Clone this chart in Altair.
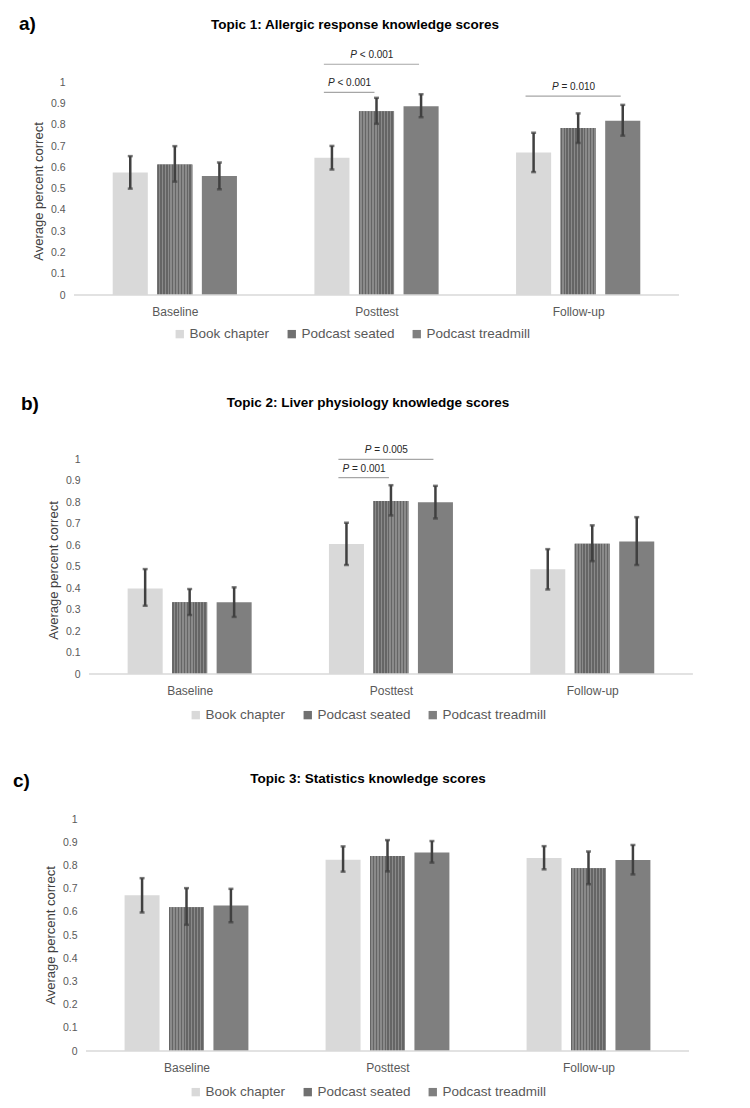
import altair as alt
import pandas as pd

# ---------------- data ----------------
groups = ["Baseline", "Posttest", "Follow-up"]
series = ["Book chapter", "Podcast seated", "Podcast treadmill"]
colors = ["#d9d9d9", "#707070", "#7f7f7f"]
yticks = [0, 0.1, 0.2, 0.3, 0.4, 0.5, 0.6, 0.7, 0.8, 0.9, 1]

# Topic 1
t1_letter = "a)"
t1_title = "Topic 1: Allergic response knowledge scores"
t1_book = [0.576, 0.645, 0.670]
t1_book_lo = [0.500, 0.590, 0.578]
t1_book_hi = [0.653, 0.701, 0.763]
t1_seated = [0.614, 0.864, 0.785]
t1_seated_lo = [0.533, 0.805, 0.715]
t1_seated_hi = [0.700, 0.927, 0.854]
t1_tread = [0.559, 0.888, 0.819]
t1_tread_lo = [0.497, 0.836, 0.749]
t1_tread_hi = [0.623, 0.944, 0.894]
t1_sig_group = ["Posttest", "Posttest", "Follow-up"]
t1_sig_from = ["Book chapter", "Book chapter", "Book chapter"]
t1_sig_to = ["Podcast treadmill", "Podcast seated", "Podcast treadmill"]
t1_sig_level = [1.085, 0.953, 0.935]
t1_sig_p = ["< 0.001", "< 0.001", "= 0.010"]

# Topic 2
t2_letter = "b)"
t2_title = "Topic 2: Liver physiology knowledge scores"
t2_book = [0.399, 0.606, 0.488]
t2_book_lo = [0.318, 0.508, 0.394]
t2_book_hi = [0.489, 0.705, 0.582]
t2_seated = [0.335, 0.806, 0.607]
t2_seated_lo = [0.275, 0.739, 0.526]
t2_seated_hi = [0.396, 0.880, 0.693]
t2_tread = [0.335, 0.800, 0.618]
t2_tread_lo = [0.266, 0.725, 0.508]
t2_tread_hi = [0.404, 0.877, 0.731]
t2_sig_group = ["Posttest", "Posttest"]
t2_sig_from = ["Book chapter", "Book chapter"]
t2_sig_to = ["Podcast treadmill", "Podcast seated"]
t2_sig_level = [1.0, 0.915]
t2_sig_p = ["= 0.005", "= 0.001"]

# Topic 3
t3_letter = "c)"
t3_title = "Topic 3: Statistics knowledge scores"
t3_book = [0.671, 0.824, 0.832]
t3_book_lo = [0.597, 0.773, 0.783]
t3_book_hi = [0.745, 0.882, 0.883]
t3_seated = [0.620, 0.840, 0.788]
t3_seated_lo = [0.544, 0.774, 0.719]
t3_seated_hi = [0.702, 0.909, 0.860]
t3_tread = [0.627, 0.856, 0.823]
t3_tread_lo = [0.555, 0.812, 0.761]
t3_tread_hi = [0.699, 0.905, 0.888]
t3_sig_group = []
t3_sig_from = []
t3_sig_to = []
t3_sig_level = []
t3_sig_p = []

# ---------------- layout / style ----------------
FONT = "Liberation Sans"
OFFS = [-0.221, 0.0, 0.221]   # series offset inside a group (group units)
HALF = 0.087                  # half bar width (group units)
W = 619
ERR = "#404040"
TXT = "#595959"


def bar_frame(means, los, his):
    rows = []
    for gi, g in enumerate(groups):
        for si, s in enumerate(series):
            p = gi + OFFS[si]
            rows.append({"group": g, "series": s, "pos": p,
                         "x0": p - HALF, "x1": p + HALF,
                         "mean": means[si][gi], "lo": los[si][gi], "hi": his[si][gi]})
    return pd.DataFrame(rows)


def sig_frame(g, f, t, lev, ptxt):
    rows = []
    for gg, ff, tt, ll, pp in zip(g, f, t, lev, ptxt):
        gi = groups.index(gg)
        a = gi + OFFS[series.index(ff)] - 0.04
        b = gi + OFFS[series.index(tt)] - 0.01
        rows.append({"a": a, "b": b, "mid": (a + b) / 2, "level": ll, "p": pp})
    return pd.DataFrame(rows, columns=["a", "b", "mid", "level", "p"])


def stripes(c1, c2, n):
    stops = []
    for i in range(n):
        s0 = i / n
        s1 = (i + 0.5) / n
        s2 = (i + 1) / n
        stops += [alt.GradientStop(offset=s0, color=c1), alt.GradientStop(offset=s1, color=c1),
                  alt.GradientStop(offset=s1, color=c2), alt.GradientStop(offset=s2, color=c2)]
    return alt.LinearGradient(gradient="linear", stops=stops, x1=0, x2=1, y1=0, y2=0)


def panel(letter, title, means, los, his, sig, ymax, height, xdom, yoff,
          legxy, letxy, titlexy, ytitle_y):
    df = bar_frame(means, los, his)
    xs = alt.Scale(domain=xdom, nice=False, zero=False)
    ys = alt.Scale(domain=[0, ymax], nice=False)
    label_expr = "[" + ",".join("'" + g + "'" for g in groups) + "][datum.value]"

    bars = alt.Chart(df).mark_bar().encode(
        x=alt.X("x0:Q", scale=xs,
                axis=alt.Axis(values=list(range(len(groups))), labelExpr=label_expr,
                              domain=False, ticks=False, grid=False, title=None,
                              labelFontSize=12, labelColor=TXT, labelFont=FONT,
                              labelPadding=11)),
        x2="x1:Q",
        y=alt.Y("mean:Q", scale=ys,
                axis=alt.Axis(values=yticks, format=".1~f", domain=False, ticks=False,
                              grid=False, labelFontSize=10.5, labelColor=TXT,
                              labelFont=FONT, labelPadding=9, offset=yoff,
                              title="Average percent correct", titleFont=FONT,
                              titleFontSize=13, titleFontWeight="normal",
                              titleColor="#404040", titlePadding=5,
                              titleY=ytitle_y)),
        y2=alt.datum(0),
        color=alt.Color("series:N", scale=alt.Scale(domain=series, range=colors),
                        legend=alt.Legend(title=None, orient="none", direction="horizontal",
                                          legendX=legxy[0], legendY=legxy[1],
                                          symbolType="square", symbolSize=70,
                                          symbolStrokeWidth=0, labelFontSize=13.5,
                                          labelFont=FONT, labelColor=TXT,
                                          columnPadding=15, labelOffset=3,
                                          padding=0)),
    )

    seated_stripes = alt.Chart(df).transform_filter(
        alt.datum.series == series[1]
    ).mark_bar(color=stripes("#656565", "#8a8a8a", 12)).encode(
        x=alt.X("x0:Q", scale=xs, axis=None),
        x2="x1:Q",
        y=alt.Y("mean:Q", scale=ys, axis=None),
        y2=alt.datum(0),
    )

    base_line = alt.Chart(pd.DataFrame({"a": [-0.5], "b": [len(groups) - 0.5], "y": [0]})).mark_rule(
        color="#d9d9d9", strokeWidth=1.5
    ).encode(
        x=alt.X("a:Q", scale=xs, axis=None), x2="b:Q",
        y=alt.Y("y:Q", scale=ys, axis=None),
    )

    err = alt.Chart(df).mark_rule(color=ERR, strokeWidth=2.5).encode(
        x=alt.X("pos:Q", scale=xs, axis=None),
        y=alt.Y("lo:Q", scale=ys, axis=None), y2="hi:Q",
    )
    caps = alt.Chart(df).transform_fold(["lo", "hi"], as_=["k", "v"]).mark_tick(
        color=ERR, thickness=2.5, size=5, orient="horizontal"
    ).encode(
        x=alt.X("pos:Q", scale=xs, axis=None),
        y=alt.Y("v:Q", scale=ys, axis=None),
    )

    layers = [bars, seated_stripes, base_line, err, caps]

    if len(sig) > 0:
        sline = alt.Chart(sig).mark_rule(color="#a6a6a6", strokeWidth=1.2).encode(
            x=alt.X("a:Q", scale=xs, axis=None), x2="b:Q",
            y=alt.Y("level:Q", scale=ys, axis=None),
        )
        sP = alt.Chart(sig).mark_text(text="P", font=FONT, fontSize=10, fontStyle="italic",
                                      align="right", baseline="middle", dx=-14.5, dy=-9,
                                      color="#262626").encode(
            x=alt.X("mid:Q", scale=xs, axis=None),
            y=alt.Y("level:Q", scale=ys, axis=None),
        )
        sT = alt.Chart(sig).mark_text(font=FONT, fontSize=10, align="left", baseline="middle",
                                      dx=-11.7, dy=-9, color="#262626").encode(
            x=alt.X("mid:Q", scale=xs, axis=None),
            y=alt.Y("level:Q", scale=ys, axis=None),
            text="p:N",
        )
        layers += [sline, sP, sT]

    lab = alt.Chart(pd.DataFrame({"t": [letter]})).mark_text(
        font=FONT, fontSize=19, fontWeight="bold", align="left", baseline="middle", color="#000000"
    ).encode(text="t:N", x=alt.value(letxy[0]), y=alt.value(letxy[1]))
    ttl = alt.Chart(pd.DataFrame({"t": [title]})).mark_text(
        font=FONT, fontSize=13.5, fontWeight="bold", align="center", baseline="middle", color="#000000"
    ).encode(text="t:N", x=alt.value(titlexy[0]), y=alt.value(titlexy[1]))
    layers += [lab, ttl]

    return alt.layer(*layers).resolve_axis(x="independent", y="independent").properties(
        width=W, height=height,
    )


p1 = panel(t1_letter, t1_title,
           [t1_book, t1_seated, t1_tread], [t1_book_lo, t1_seated_lo, t1_tread_lo],
           [t1_book_hi, t1_seated_hi, t1_tread_hi],
           sig_frame(t1_sig_group, t1_sig_from, t1_sig_to, t1_sig_level, t1_sig_p),
           ymax=1.152, height=245, xdom=[-0.5, 2.5694], yoff=0,
           legxy=(99, 277), letxy=(-55, -26), titlexy=(281, -25), ytitle_y=141)

p2 = panel(t2_letter, t2_title,
           [t2_book, t2_seated, t2_tread], [t2_book_lo, t2_seated_lo, t2_tread_lo],
           [t2_book_hi, t2_seated_hi, t2_tread_hi],
           sig_frame(t2_sig_group, t2_sig_from, t2_sig_to, t2_sig_level, t2_sig_p),
           ymax=1.1, height=236, xdom=[-0.5745, 2.5005], yoff=-15,
           legxy=(115, 270), letxy=(-53, -34), titlexy=(294, -35), ytitle_y=132)

p3 = panel(t3_letter, t3_title,
           [t3_book, t3_seated, t3_tread], [t3_book_lo, t3_seated_lo, t3_tread_lo],
           [t3_book_hi, t3_seated_hi, t3_tread_hi],
           sig_frame(t3_sig_group, t3_sig_from, t3_sig_to, t3_sig_level, t3_sig_p),
           ymax=1.0, height=232, xdom=[-0.5597, 2.5199], yoff=-12,
           legxy=(115, 266), letxy=(-61, -38), titlexy=(294, -40), ytitle_y=116)

lower = alt.vconcat(p2, p3, spacing=50).resolve_scale(
    color="independent", x="independent", y="independent"
).resolve_legend(color="independent")
chart = alt.vconcat(p1, lower, spacing=54).resolve_scale(
    color="independent", x="independent", y="independent"
).resolve_legend(color="independent").properties(
    padding={"left": 5, "top": 7, "right": 4, "bottom": 4}
).configure(background="white").configure_view(stroke=None)

chart.save("out.html", embed_options={"renderer": "svg", "actions": False})
